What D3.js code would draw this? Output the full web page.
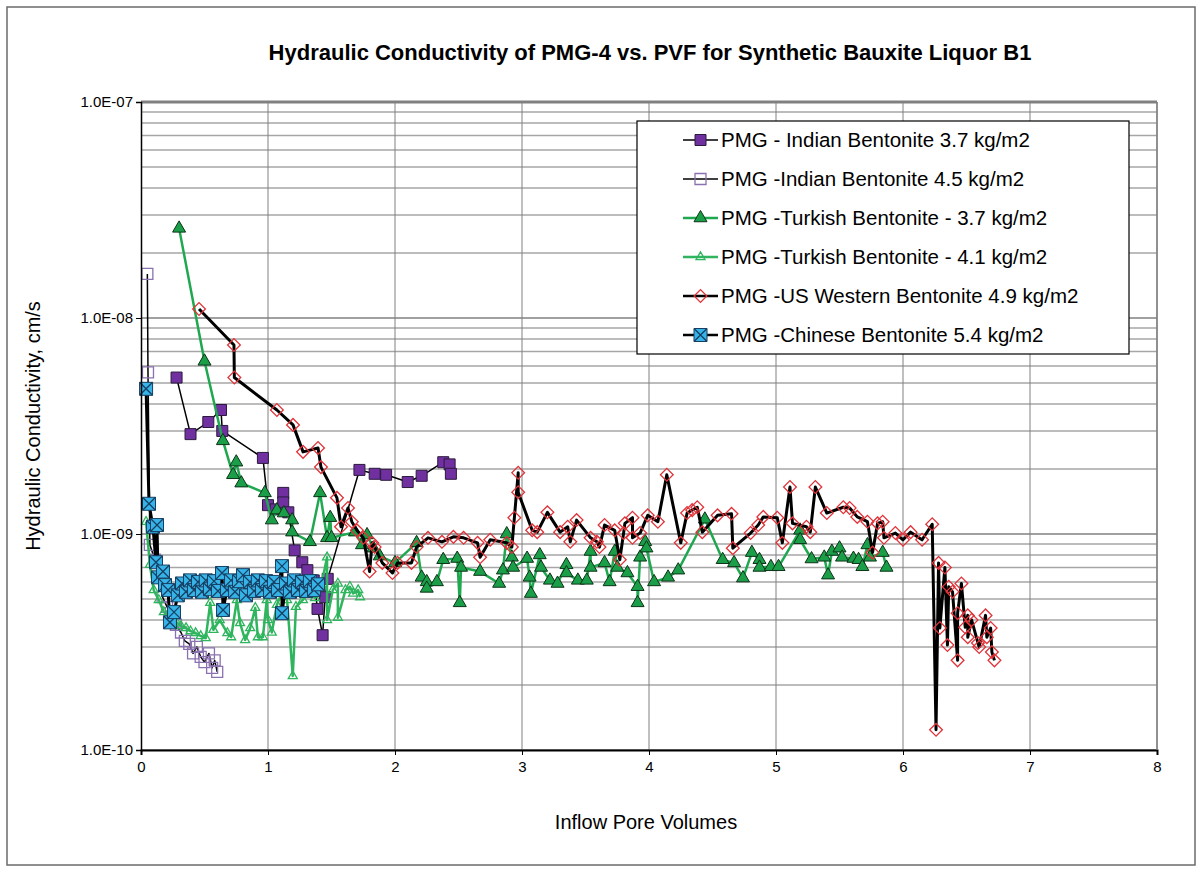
<!DOCTYPE html>
<html>
  <head>
    <style>
      body {
        margin: 0;
        background: #fff;
      }
      svg {
        display: block;
        font-family: "Liberation Sans", Arial, sans-serif;
      }
      .grid-minor { stroke: #a6a6a6; stroke-width: 1.5px; }
      .grid-major { stroke: #808080; stroke-width: 1.5px; }
      .grid-v { stroke: #808080; stroke-width: 1px; }
      .axis path, .axis line { stroke: #000; }
      .axis text { font-family: "Liberation Sans Narrow", "Arial Narrow", sans-serif; font-size: 15px; fill: #000; }
    </style>
  </head>
  <body>
    <script src="https://d3js.org/d3.v7.min.js"></script>
    <script>
    // ---- data ----
      var x_ticks = [0, 1, 2, 3, 4, 5, 6, 7, 8];
      var y_ticks = [1e-10, 1e-9, 1e-8, 1e-7];
      var y_tick_labels = ["1.0E-10", "1.0E-09", "1.0E-08", "1.0E-07"];

      var indian37_x = [0.28, 0.39, 0.53, 0.63, 0.64, 0.96, 1.00, 1.06, 1.12, 1.12, 1.16, 1.21, 1.27, 1.31, 1.36, 1.39, 1.43, 1.45, 1.47, 1.72, 1.84, 1.93, 2.10, 2.21, 2.38, 2.43, 2.44];
      var indian37_y = [5.3e-9, 2.9e-9, 3.3e-9, 3.75e-9, 3.0e-9, 2.25e-9, 1.36e-9, 1.3e-9, 1.55e-9, 1.4e-9, 1.26e-9, 8.4e-10, 7.4e-10, 6.8e-10, 6.1e-10, 4.5e-10, 3.4e-10, 5.1e-10, 6.2e-10, 1.98e-9, 1.9e-9, 1.88e-9, 1.74e-9, 1.86e-9, 2.15e-9, 2.1e-9, 1.9e-9];

      var indian45_x = [0.05, 0.055, 0.07, 0.11, 0.15, 0.17, 0.205, 0.235, 0.275, 0.315, 0.345, 0.38, 0.41, 0.44, 0.47, 0.50, 0.535, 0.56, 0.58, 0.60];
      var indian45_y = [1.6e-8, 5.6e-9, 8.9e-10, 7.6e-10, 6.3e-10, 5.1e-10, 4.6e-10, 4.3e-10, 3.8e-10, 3.5e-10, 3.2e-10, 3.1e-10, 2.8e-10, 3.0e-10, 2.7e-10, 2.55e-10, 2.8e-10, 2.4e-10, 2.6e-10, 2.3e-10];

      var turkish37_x = [0.30, 0.50, 0.645, 0.725, 0.75, 0.79, 0.975, 1.03, 1.07, 1.125, 1.19, 1.19, 1.33, 1.41, 1.465, 1.49, 1.50, 1.685, 1.74, 1.78, 1.83, 1.88, 2.00, 2.17, 2.21, 2.25, 2.25, 2.33, 2.38, 2.49, 2.51, 2.52, 2.67, 2.82, 2.85, 2.88, 2.92, 2.93, 3.04, 3.06, 3.07, 3.14, 3.15, 3.22, 3.28, 3.35, 3.35, 3.44, 3.51, 3.54, 3.54, 3.65, 3.69, 3.73, 3.75, 3.83, 3.91, 3.91, 3.93, 3.97, 3.98, 4.04, 4.15, 4.23, 4.44, 4.58, 4.67, 4.74, 4.81, 4.87, 4.87, 4.96, 5.02, 5.19, 5.19, 5.28, 5.38, 5.41, 5.44, 5.50, 5.52, 5.61, 5.65, 5.68, 5.72, 5.74, 5.84, 5.87];
      var turkish37_y = [2.6e-8, 6.3e-9, 2.7e-9, 1.88e-9, 2.15e-9, 1.72e-9, 1.55e-9, 1.16e-9, 1.29e-9, 1.25e-9, 1.16e-9, 1.02e-9, 9.2e-10, 1.55e-9, 9.6e-10, 1.19e-9, 9.6e-10, 1.02e-9, 8.9e-10, 9.9e-10, 8.6e-10, 7.9e-10, 7.35e-10, 9.1e-10, 6.3e-10, 6.0e-10, 5.6e-10, 6.0e-10, 7.6e-10, 7.7e-10, 4.8e-10, 7.0e-10, 6.7e-10, 5.9e-10, 6.8e-10, 1.0e-9, 7.8e-10, 7.0e-10, 7.7e-10, 6.3e-10, 5.3e-10, 8.0e-10, 7.0e-10, 6.1e-10, 5.9e-10, 7.2e-10, 6.6e-10, 6.1e-10, 6.1e-10, 8.3e-10, 7.0e-10, 7.35e-10, 6.0e-10, 8.3e-10, 7.0e-10, 6.6e-10, 5.7e-10, 4.8e-10, 7.8e-10, 9.2e-10, 8.6e-10, 6.0e-10, 6.3e-10, 6.8e-10, 1.17e-9, 7.6e-10, 7.35e-10, 6.25e-10, 8.2e-10, 7.6e-10, 7.0e-10, 7.05e-10, 7.05e-10, 1.04e-9, 9.4e-10, 7.66e-10, 7.8e-10, 6.45e-10, 8.3e-10, 8.6e-10, 7.8e-10, 7.7e-10, 7.6e-10, 7.05e-10, 8.9e-10, 7.8e-10, 8.2e-10, 7.0e-10];

      var turkish41_x = [0.04, 0.07, 0.10, 0.14, 0.18, 0.23, 0.28, 0.315, 0.355, 0.39, 0.43, 0.47, 0.51, 0.545, 0.57, 0.62, 0.68, 0.71, 0.755, 0.78, 0.82, 0.86, 0.90, 0.92, 0.96, 0.99, 1.00, 1.03, 1.07, 1.12, 1.15, 1.195, 1.22, 1.275, 1.32, 1.37, 1.42, 1.465, 1.465, 1.51, 1.55, 1.55, 1.61, 1.645, 1.67, 1.71, 1.725];
      var turkish41_y = [1.14e-9, 7.2e-10, 5.5e-10, 4.95e-10, 4.35e-10, 4.1e-10, 3.9e-10, 3.75e-10, 3.67e-10, 3.55e-10, 3.48e-10, 3.37e-10, 3.3e-10, 4.8e-10, 3.6e-10, 4.0e-10, 3.48e-10, 3.33e-10, 4.95e-10, 3.87e-10, 3.23e-10, 3.67e-10, 4.55e-10, 3.33e-10, 3.33e-10, 4.95e-10, 4.0e-10, 3.5e-10, 4.7e-10, 5.5e-10, 4.95e-10, 2.2e-10, 4.6e-10, 4.95e-10, 5.5e-10, 5.05e-10, 5.8e-10, 7.8e-10, 4.0e-10, 5.5e-10, 5.9e-10, 4.1e-10, 5.5e-10, 5.7e-10, 5.3e-10, 5.5e-10, 5.1e-10];

      var uswestern_x = [0.457, 0.732, 0.735, 1.07, 1.197, 1.276, 1.394, 1.417, 1.543, 1.575, 1.63, 1.66, 1.70, 1.75, 1.80, 1.82, 1.84, 1.90, 1.98, 2.02, 2.13, 2.17, 2.26, 2.37, 2.46, 2.54, 2.65, 2.67, 2.75, 2.88, 2.92, 2.94, 2.97, 2.97, 3.08, 3.12, 3.20, 3.30, 3.36, 3.38, 3.43, 3.54, 3.59, 3.61, 3.65, 3.73, 3.77, 3.80, 3.81, 3.87, 3.87, 3.93, 3.99, 4.07, 4.14, 4.25, 4.30, 4.34, 4.38, 4.42, 4.54, 4.65, 4.66, 4.80, 4.86, 4.90, 5.01, 5.05, 5.11, 5.13, 5.24, 5.27, 5.31, 5.40, 5.53, 5.58, 5.64, 5.72, 5.76, 5.80, 5.84, 5.85, 5.94, 6.00, 6.06, 6.15, 6.23, 6.26, 6.28, 6.29, 6.33, 6.35, 6.36, 6.39, 6.43, 6.43, 6.46, 6.49, 6.51, 6.51, 6.54, 6.59, 6.60, 6.65, 6.66, 6.69, 6.70, 6.72];
      var uswestern_y = [1.10e-8, 7.5e-9, 5.3e-9, 3.75e-9, 3.2e-9, 2.4e-9, 2.5e-9, 2.04e-9, 1.47e-9, 1.08e-9, 1.32e-9, 1.14e-9, 1.04e-9, 9.6e-10, 6.7e-10, 9.1e-10, 8.7e-10, 7.35e-10, 6.6e-10, 7.35e-10, 7.35e-10, 8.7e-10, 9.6e-10, 9.2e-10, 9.7e-10, 9.6e-10, 9.1e-10, 7.8e-10, 9.4e-10, 9.1e-10, 8.7e-10, 1.19e-9, 1.92e-9, 1.56e-9, 1.04e-9, 1.02e-9, 1.26e-9, 1.02e-9, 1.08e-9, 9.2e-10, 1.16e-9, 9.6e-10, 9.2e-10, 8.7e-10, 1.1e-9, 1.04e-9, 7.6e-10, 1.01e-9, 1.12e-9, 1.19e-9, 9.6e-10, 1.01e-9, 1.22e-9, 1.14e-9, 1.88e-9, 9.1e-10, 1.25e-9, 1.29e-9, 1.33e-9, 1.02e-9, 1.22e-9, 1.24e-9, 8.6e-10, 1.01e-9, 1.1e-9, 1.2e-9, 1.19e-9, 9.1e-10, 1.65e-9, 1.12e-9, 1.08e-9, 1.02e-9, 1.65e-9, 1.25e-9, 1.33e-9, 1.32e-9, 1.2e-9, 1.14e-9, 8.2e-10, 1.12e-9, 1.14e-9, 9.6e-10, 1.01e-9, 9.4e-10, 1.02e-9, 9.4e-10, 1.11e-9, 1.24e-10, 7.35e-10, 3.67e-10, 7.0e-10, 3.06e-10, 5.7e-10, 5.4e-10, 2.6e-10, 4.3e-10, 5.9e-10, 3.7e-10, 4.2e-10, 3.33e-10, 4.0e-10, 3.13e-10, 3.0e-10, 4.2e-10, 3.33e-10, 3.67e-10, 2.84e-10, 2.6e-10];

      var chinese_x = [0.04, 0.063, 0.094, 0.118, 0.126, 0.134, 0.173, 0.189, 0.213, 0.228, 0.26, 0.29, 0.323, 0.354, 0.386, 0.417, 0.449, 0.48, 0.51, 0.543, 0.575, 0.606, 0.638, 0.646, 0.677, 0.709, 0.74, 0.772, 0.803, 0.827, 0.858, 0.89, 0.92, 0.953, 0.984, 1.016, 1.047, 1.079, 1.11, 1.11, 1.142, 1.173, 1.205, 1.236, 1.268, 1.30, 1.33, 1.362, 1.394];
      var chinese_y = [4.7e-9, 1.38e-9, 1.08e-9, 7.4e-10, 1.1e-9, 6.3e-10, 6.7e-10, 5.8e-10, 5.5e-10, 3.9e-10, 4.35e-10, 5.2e-10, 5.9e-10, 5.4e-10, 6.1e-10, 5.5e-10, 6.0e-10, 5.4e-10, 6.1e-10, 5.55e-10, 6.05e-10, 5.45e-10, 6.6e-10, 4.45e-10, 5.5e-10, 6.1e-10, 5.4e-10, 6.05e-10, 6.45e-10, 5.2e-10, 6.0e-10, 5.45e-10, 6.1e-10, 5.5e-10, 6.05e-10, 5.4e-10, 6.0e-10, 5.5e-10, 7.1e-10, 4.3e-10, 5.9e-10, 5.4e-10, 6.1e-10, 5.5e-10, 6.0e-10, 5.45e-10, 6.05e-10, 5.5e-10, 5.85e-10];

      var series_names = [
        "PMG - Indian Bentonite 3.7 kg/m2",
        "PMG -Indian Bentonite 4.5 kg/m2",
        "PMG -Turkish Bentonite - 3.7 kg/m2",
        "PMG -Turkish Bentonite - 4.1 kg/m2",
        "PMG -US Western Bentonite 4.9 kg/m2",
        "PMG -Chinese Bentonite 5.4 kg/m2"
      ];

    // styles for each series (legend order = draw order)
      var series = [
        {name: series_names[0], xs: indian37_x, ys: indian37_y, line: "#000", lw: 1.5, marker: "square", fill: "#7030a0", stroke: "#2b1a3d", size: 11},
        {name: series_names[1], xs: indian45_x, ys: indian45_y, line: "#000", lw: 1.5, marker: "square", fill: "none", stroke: "#8a72b0", size: 11},
        {name: series_names[2], xs: turkish37_x, ys: turkish37_y, line: "#1fa84f", lw: 2.5, marker: "triangle", fill: "#1a9e48", stroke: "#0d3318", size: 13},
        {name: series_names[3], xs: turkish41_x, ys: turkish41_y, line: "#2fb55e", lw: 2.5, marker: "triangle", fill: "none", stroke: "#2fb55e", size: 9},
        {name: series_names[4], xs: uswestern_x, ys: uswestern_y, line: "#000", lw: 3, marker: "diamond", fill: "none", stroke: "#e0343a", size: 9},
        {name: series_names[5], xs: chinese_x, ys: chinese_y, line: "#000", lw: 3, marker: "xsquare", fill: "#36b4e8", stroke: "#173f63", size: 13}
      ];

      var width = 1200, height = 873;
      var plot = {left: 141, right: 1157, top: 102, bottom: 750};

      var x_scale = d3.scaleLinear().domain([0, 8]).range([plot.left, plot.right]);
      var y_scale = d3.scaleLog().domain([1e-10, 1e-7]).range([plot.bottom, plot.top]);

      var svg = d3.select("body").append("svg")
          .attr("width", width)
          .attr("height", height);

      // outer frame
      svg.append("rect")
          .attr("x", 7).attr("y", 7)
          .attr("width", 1188).attr("height", 858)
          .attr("fill", "#fff")
          .attr("stroke", "#6b6b6b")
          .attr("stroke-width", 1.5);

      // title
      svg.append("text")
          .attr("x", 650).attr("y", 60)
          .attr("text-anchor", "middle")
          .style("font-family", "'Liberation Sans Narrow', 'Arial Narrow', sans-serif")
          .style("font-weight", "bold")
          .style("font-size", "22px")
          .text("Hydraulic Conductivity of PMG-4 vs. PVF for Synthetic Bauxite Liquor B1");

      var g = svg.append("g");

      // minor log gridlines (2..9 in each decade)
      var minor_vals = [];
      [1e-10, 1e-9, 1e-8].forEach(function(dec) {
        for (var m = 2; m <= 9; m++) minor_vals.push(m * dec);
      });
      g.selectAll(".grid-minor").data(minor_vals).enter().append("line")
          .attr("class", "grid-minor")
          .attr("x1", plot.left).attr("x2", plot.right)
          .attr("y1", d => y_scale(d)).attr("y2", d => y_scale(d));

      g.selectAll(".grid-major").data(y_ticks).enter().append("line")
          .attr("class", "grid-major")
          .attr("x1", plot.left).attr("x2", plot.right)
          .attr("y1", d => y_scale(d)).attr("y2", d => y_scale(d))
          .style("stroke-width", d => d === 1e-7 ? 3 : 1.5);

      g.selectAll(".grid-v").data(x_ticks.slice(1)).enter().append("line")
          .attr("class", "grid-v")
          .attr("x1", d => x_scale(d)).attr("x2", d => x_scale(d))
          .attr("y1", plot.top).attr("y2", plot.bottom);

      // line generator
      var line_generator = d3.line()
          .x(d => x_scale(d[0]))
          .y(d => y_scale(d[1]));

      function draw_marker(sel, s) {
        var sz = s.size;
        if (s.marker === "square" || s.marker === "xsquare") {
          sel.append("path")
              .attr("d", d3.symbol().type(d3.symbolSquare).size(sz * sz)())
              .attr("fill", s.fill === "none" ? "none" : s.fill)
              .attr("stroke", s.stroke)
              .attr("stroke-width", s.fill === "none" ? 1.3 : 1);
          if (s.marker === "xsquare") {
            var h = sz / 2;
            sel.append("path")
                .attr("d", "M" + (-h) + "," + (-h) + "L" + h + "," + h + "M" + (-h) + "," + h + "L" + h + "," + (-h))
                .attr("stroke", s.stroke)
                .attr("stroke-width", 1.3)
                .attr("fill", "none");
          }
        } else if (s.marker === "triangle") {
          var area = Math.sqrt(3) / 4 * sz * sz;
          sel.append("path")
              .attr("d", d3.symbol().type(d3.symbolTriangle).size(area)())
              .attr("fill", s.fill)
              .attr("stroke", s.stroke)
              .attr("stroke-width", s.fill === "none" ? 1.3 : 1);
        } else if (s.marker === "diamond") {
          sel.append("path")
              .attr("d", d3.symbol().type(d3.symbolSquare).size(sz * sz)())
              .attr("transform", "rotate(45)")
              .attr("fill", s.fill)
              .attr("stroke", s.stroke)
              .attr("stroke-width", 1.3);
        }
      }

      // draw every series: line then markers
      series.forEach(function(s) {
        var pts = d3.zip(s.xs, s.ys);
        var sg = g.append("g");
        sg.append("path")
            .datum(pts)
            .attr("fill", "none")
            .attr("stroke", s.line)
            .attr("stroke-width", s.lw)
            .attr("stroke-linejoin", "round")
            .attr("d", line_generator);
        sg.selectAll(".pt").data(pts).enter().append("g")
            .attr("class", "pt")
            .attr("transform", d => "translate(" + [x_scale(d[0]), y_scale(d[1])] + ")")
            .each(function() { draw_marker(d3.select(this), s); });
      });

      // axes
      var x_axis = d3.axisBottom(x_scale).tickValues(x_ticks).tickSize(5).tickPadding(6).tickFormat(d3.format("d"));
      var y_axis = d3.axisLeft(y_scale).tickValues(y_ticks).tickSize(5).tickPadding(3)
          .tickFormat((d, i) => y_tick_labels[i]);

      svg.append("g")
          .attr("class", "axis")
          .attr("transform", "translate(0," + plot.bottom + ")")
          .call(x_axis)
          .call(a => a.select(".domain").attr("stroke-width", 2));

      svg.append("g")
          .attr("class", "axis")
          .attr("transform", "translate(" + plot.left + ",0)")
          .call(y_axis)
          .call(a => a.select(".domain").attr("stroke-width", 1.5));

      // right edge of plot area
      svg.append("line")
          .attr("x1", plot.right).attr("x2", plot.right)
          .attr("y1", plot.top).attr("y2", plot.bottom)
          .attr("stroke", "#808080").attr("stroke-width", 1.5);

      // axis titles
      svg.append("text")
          .attr("x", 646).attr("y", 829)
          .attr("text-anchor", "middle")
          .style("font-size", "20px")
          .text("Inflow Pore Volumes");

      svg.append("text")
          .attr("transform", "translate(40,426) rotate(-90)")
          .attr("text-anchor", "middle")
          .style("font-size", "20px")
          .text("Hydraulic Conductivity, cm/s");

      // legend
      var legend = svg.append("g").attr("transform", "translate(637,121)");
      legend.append("rect")
          .attr("width", 492).attr("height", 233)
          .attr("fill", "#fff")
          .attr("stroke", "#000")
          .attr("stroke-width", 1.2);

      var items = legend.selectAll(".item").data(series).enter().append("g")
          .attr("class", "item")
          .attr("transform", (d, i) => "translate(0," + (19 + i * 39) + ")");

      items.append("line")
          .attr("x1", 46).attr("x2", 81)
          .attr("stroke", d => d.line)
          .attr("stroke-width", d => Math.min(d.lw, 2.5));

      items.append("g")
          .attr("transform", "translate(63.5,0)")
          .each(function(d) { draw_marker(d3.select(this), d); });

      items.append("text")
          .attr("x", 84).attr("y", 7)
          .style("font-size", "20.5px")
          .text(d => d.name);
    </script>
  </body>
</html>
